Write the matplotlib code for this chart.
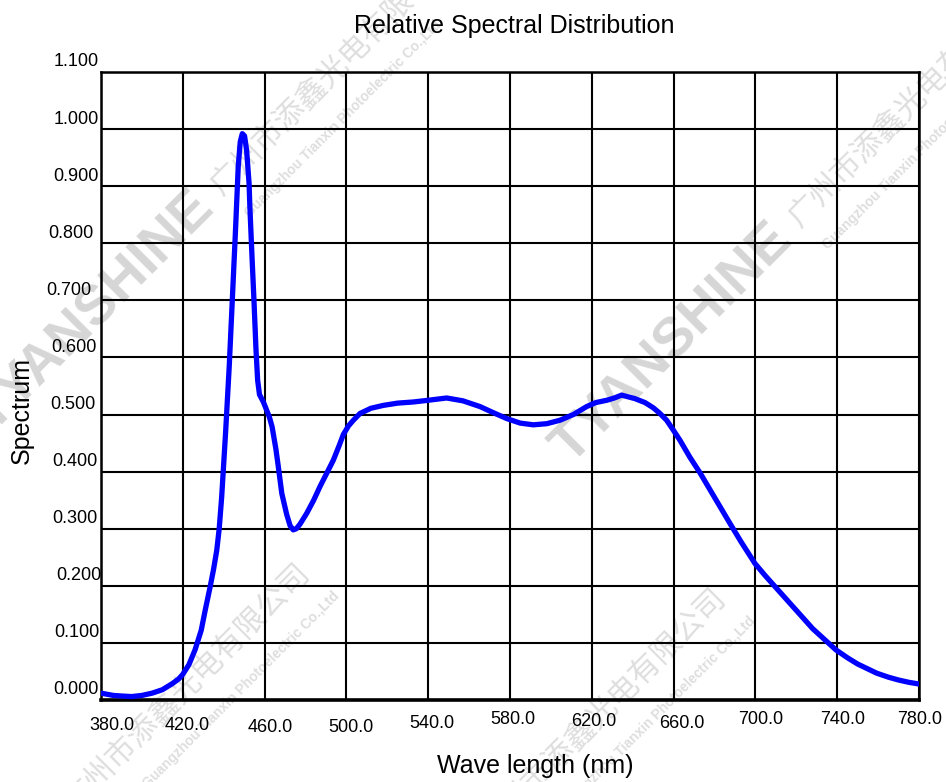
import matplotlib.pyplot as plt
import matplotlib.transforms as mtransforms

plt.rcParams['font.family'] = ['Liberation Sans', 'Noto Sans CJK SC', 'DejaVu Sans']

W_PX, H_PX = 946, 782

# relative spectral distribution
wavelength = [380, 383, 386, 390, 395, 400, 405, 410, 415, 418, 420, 423, 426, 429,
              431, 433.3, 435, 436.6, 437.8, 439, 440.9, 442.7, 444.2, 445.7, 447.1,
              448.1, 449.1, 450.2, 451.2, 452.4, 452.8, 453.7, 454.8, 455.8, 456.6,
              457.5, 459.4, 462.3, 463.7, 465.5, 466.7, 468.4, 470.8, 472.5, 474.0,
              475.5, 477.3, 480.6, 484, 487.1, 490.5, 493.6, 496.5, 498.5, 501, 503.4,
              506.7, 512, 518, 525, 532.7, 540, 549, 557, 565.3, 572, 578.4, 585,
              591.4, 598, 604.4, 611, 617.5, 622, 627.3, 631, 634.6, 641, 646, 650,
              653, 656.6, 660, 663.1, 668, 672.9, 680, 687.6, 693, 699.8, 705, 710,
              718.5, 728, 739.3, 745, 750, 759.3, 765, 770, 775, 780]
spectrum = [0.012, 0.010, 0.008, 0.007, 0.006, 0.008, 0.012, 0.018, 0.029, 0.037,
            0.045, 0.062, 0.088, 0.122, 0.158, 0.197, 0.228, 0.262, 0.300, 0.355,
            0.467, 0.584, 0.700, 0.817, 0.934, 0.978, 0.992, 0.988, 0.963, 0.905,
            0.864, 0.788, 0.700, 0.613, 0.560, 0.535, 0.522, 0.496, 0.478, 0.440,
            0.409, 0.362, 0.325, 0.305, 0.298, 0.300, 0.308, 0.327, 0.350, 0.374,
            0.398, 0.420, 0.446, 0.465, 0.480, 0.490, 0.502, 0.511, 0.516, 0.520,
            0.522, 0.525, 0.529, 0.524, 0.514, 0.503, 0.493, 0.485, 0.482, 0.484,
            0.490, 0.500, 0.514, 0.521, 0.525, 0.529, 0.534, 0.528, 0.521, 0.512,
            0.503, 0.490, 0.472, 0.455, 0.425, 0.398, 0.355, 0.309, 0.277, 0.239,
            0.217, 0.197, 0.163, 0.125, 0.088, 0.074, 0.063, 0.047, 0.040, 0.035,
            0.031, 0.028]

x_ticks = [380, 420, 460, 500, 540, 580, 620, 660, 700, 740, 780]
x_labels = ["380.0", "420.0", "460.0", "500.0", "540.0", "580.0", "620.0",
            "660.0", "700.0", "740.0", "780.0"]
y_ticks = [0.0, 0.1, 0.2, 0.3, 0.4, 0.5, 0.6, 0.7, 0.8, 0.9, 1.0, 1.1]
y_labels = ["0.000", "0.100", "0.200", "0.300", "0.400", "0.500", "0.600",
            "0.700", "0.800", "0.900", "1.000", "1.100"]

# the labels in the original sit a bit unevenly (pixel nudges)
x_dx = [11, 4, 6, 5, 4, 3, 2, 8, 5, 5, 1]
x_dy = [-25, -25, -27, -27, -23, -20, -22, -23, -20, -20, -20]
y_dx = [-2, -2, 0, -4, -4, -6, -4, -10, -8, -2, -2, -2]

C_LINE = "#0000FF"
C_WM = "#D6D6D6"
C_WM2 = "#DEDEDE"

fig = plt.figure(figsize=(W_PX / 100, H_PX / 100), dpi=100, facecolor="white")
ax = fig.add_axes([101 / W_PX, 82 / H_PX, 818 / W_PX, 628 / H_PX])
ax.set_facecolor("none")


def px(x, y):
    return x / W_PX, 1 - y / H_PX


def watermark(x0, y0, with_logo=True, anchor="left"):
    # company watermark, running at 45 degrees
    if with_logo:
        fig.text(*px(x0 - 6, y0 + 14), "TYANSHINE", rotation=45, rotation_mode="anchor",
                 ha="right", va="baseline", fontsize=40, weight="bold",
                 color=C_WM, zorder=-5)
    fig.text(*px(x0, y0), "广州市添鑫光电有限公司", rotation=45, rotation_mode="anchor",
             ha=anchor, va="baseline", fontsize=22, color=C_WM2, zorder=-5,
             family=["Noto Sans CJK SC", "DejaVu Sans"])
    fig.text(*px(x0 + 20, y0 + 14), "Guangzhou Tianxin Photoelectric Co.,Ltd",
             rotation=45, rotation_mode="anchor", ha=anchor, va="top", fontsize=10,
             weight="bold", color=C_WM2, zorder=-5)


watermark(222, 196)
watermark(800, 228)
watermark(312, 575, with_logo=False, anchor="right")
watermark(728, 600, with_logo=False, anchor="right")

ax.plot(wavelength, spectrum, color=C_LINE, lw=3.8, solid_joinstyle="round",
        solid_capstyle="round", zorder=5)

ax.set_xlim(380, 780)
ax.set_ylim(0, 1.1)
ax.set_xticks(x_ticks)
ax.set_yticks(y_ticks)
ax.set_xticklabels([])
ax.set_yticklabels([])
ax.tick_params(length=0)
ax.grid(True, color="black", lw=1.5)
ax.set_axisbelow(False)

for side in ["left", "right", "top"]:
    ax.spines[side].set_linewidth(1.8)
ax.spines["bottom"].set_linewidth(2.6)

for x, lab, dx, dy in zip(x_ticks, x_labels, x_dx, x_dy):
    tr = mtransforms.offset_copy(ax.get_xaxis_transform(), fig=fig, x=dx, y=dy, units="dots")
    ax.text(x, 0, lab, transform=tr, ha="center", va="center", fontsize=13)

for y, lab, dx in zip(y_ticks, y_labels, y_dx):
    tr = mtransforms.offset_copy(ax.get_yaxis_transform(), fig=fig, x=dx, y=10, units="dots")
    ax.text(0, y, lab, transform=tr, ha="right", va="center", fontsize=13)

fig.text(*px(514, 26), "Relative Spectral Distribution", ha="center", va="center", fontsize=18)
fig.text(*px(535, 766), "Wave length (nm)", ha="center", va="center", fontsize=18)
fig.text(*px(22, 410), "Spectrum", ha="center", va="center", rotation=90, fontsize=18)

fig.savefig("out.png", dpi=100)
